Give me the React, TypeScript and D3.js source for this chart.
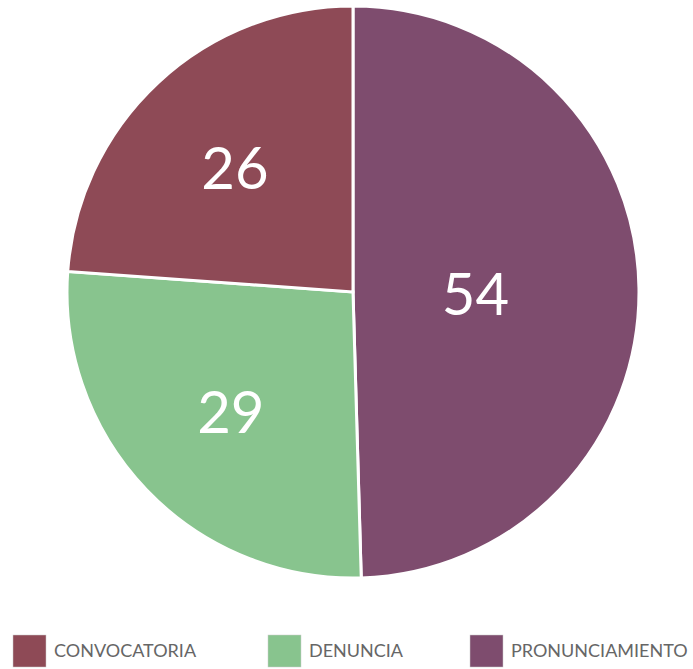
import React, { useEffect, useRef } from 'react';
import * as d3 from 'd3';

const categories = ['PRONUNCIAMIENTO', 'DENUNCIA', 'CONVOCATORIA'];
const values = [54, 29, 26];
const colors = ['#7e4c6e', '#88c48e', '#8e4a56'];
const legendOrder = ['CONVOCATORIA', 'DENUNCIA', 'PRONUNCIAMIENTO'];

const width = 693;
const height = 669;

export default function App() {
  const svgRef = useRef<SVGSVGElement>(null);

  useEffect(() => {
    const svg = d3.select(svgRef.current);
    svg.selectAll('*').remove();

    const cx = 353;
    const cy = 292;
    const radius = 286;

    const color = d3.scaleOrdinal<string, string>().domain(categories).range(colors);

    const pie = d3.pie<number>().sort(null).value(d => d);
    const arcs = pie(values);
    const arc = d3.arc<d3.PieArcDatum<number>>().innerRadius(0).outerRadius(radius);

    const g = svg.append('g').attr('transform', `translate(${cx},${cy})`);

    g.selectAll('path')
      .data(arcs)
      .join('path')
      .attr('d', arc)
      .attr('fill', (d, i) => color(categories[i]))
      .attr('stroke', '#fff')
      .attr('stroke-width', 3)
      .attr('stroke-linejoin', 'miter');

    // label at the geometric centroid of each sector
    g.selectAll('text')
      .data(arcs)
      .join('text')
      .attr('transform', d => {
        const theta = d.endAngle - d.startAngle;
        const mid = (d.startAngle + d.endAngle) / 2;
        const r = (4 * radius * Math.sin(theta / 2)) / (3 * theta);
        return `translate(${r * Math.sin(mid)},${-r * Math.cos(mid)})`;
      })
      .attr('text-anchor', 'middle')
      .attr('dy', '0.42em')
      .attr('fill', '#fff')
      .attr('font-family', 'Lato, "Open Sans", sans-serif')
      .attr('font-size', 58)
      .text(d => d.value);

    const legendX = d3.scaleOrdinal<string, number>().domain(legendOrder).range([13, 268, 470]);

    const legend = svg.append('g');
    const item = legend.selectAll('g')
      .data(legendOrder)
      .join('g')
      .attr('transform', d => `translate(${legendX(d)},635)`);

    item.append('rect')
      .attr('width', 33)
      .attr('height', 32)
      .attr('fill', d => color(d))
      .attr('stroke', '#ccc')
      .attr('stroke-width', 0.5);

    item.append('text')
      .attr('x', 41)
      .attr('y', 16)
      .attr('dy', '0.35em')
      .attr('fill', '#666')
      .attr('font-family', 'Lato, "Open Sans", sans-serif')
      .attr('font-size', 18)
      .text(d => d);
  }, []);

  return (
    <svg
      ref={svgRef}
      width={width}
      height={height}
      style={{ position: 'absolute', left: 0, top: 0, display: 'block' }}
    />
  );
}
